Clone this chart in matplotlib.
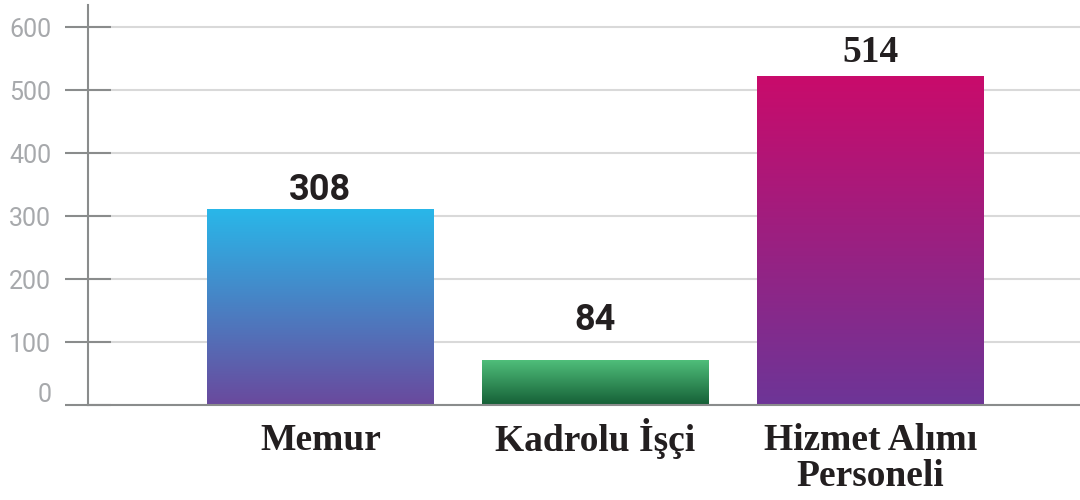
import numpy as np
import matplotlib
matplotlib.use("Agg")
import matplotlib.pyplot as plt
from matplotlib.colors import LinearSegmentedColormap
from matplotlib.transforms import ScaledTranslation

# data
categories = ["Memur", "Kadrolu İşçi", "Hizmet Alımı\nPersoneli"]
bar_heights = [311, 71, 522]  # heights of the bars as drawn
value_labels = ["308", "84", "514"]  # numbers printed above the bars
y_ticks = [0, 100, 200, 300, 400, 500, 600]

# styles
top_colors = ["#29b7e9", "#4fbe7a", "#c90b6b"]
bottom_colors = ["#6a499d", "#155f36", "#6d3597"]
label_fonts = ["Roboto", "Roboto", "Liberation Serif"]
label_offsets = [6.5, 21.5, 10]  # points above bar top
axis_grey = "#8a8c8c"
grid_grey = "#d9d9d9"

fig = plt.figure(figsize=(10.8, 5), dpi=100)
ax = fig.add_axes([88 / 1080, 95 / 500, 1 - 88 / 1080, 400 / 500])

x = np.arange(len(categories))
width = 0.825
bars = ax.bar(x, bar_heights, width=width, color="none", zorder=2)

grad = np.linspace(0, 1, 256).reshape(-1, 1)
for i, b in enumerate(bars):
    cmap = LinearSegmentedColormap.from_list(f"g{i}", [bottom_colors[i], top_colors[i]])
    im = ax.imshow(
        grad,
        extent=(x[i] - width / 2, x[i] + width / 2, 0, bar_heights[i]),
        origin="lower",
        cmap=cmap,
        aspect="auto",
        zorder=2,
    )
    im.set_clip_path(b)
    ax.annotate(
        value_labels[i],
        xy=(x[i], bar_heights[i]),
        xytext=(0, label_offsets[i]),
        textcoords="offset points",
        ha="center",
        va="baseline",
        fontsize=27 if label_fonts[i] != "Roboto" else 26,
        fontweight="bold",
        family=label_fonts[i],
        color="#231f20",
        zorder=3,
    )

ax.set_xlim(-0.845, 2.762)
ax.set_ylim(0, 635)

ax.set_yticks(y_ticks)
ax.set_yticklabels([str(v) for v in y_ticks], fontsize=18, color="#a7a9ac", family="Roboto")
ax.tick_params(axis="y", direction="inout", length=33, width=1.5, color=axis_grey, pad=10)
# the "0" label sits a little above its line
zero_lbl = ax.get_yticklabels()[0]
zero_lbl.set_transform(zero_lbl.get_transform() + ScaledTranslation(0, 12 / 100, fig.dpi_scale_trans))

ax.set_xticks(x)
ax.set_xticklabels(categories, fontsize=27, fontweight="bold", family="Liberation Serif",
                   color="#231f20", linespacing=1.05)
ax.tick_params(axis="x", length=0, pad=13)
# keep the dotted İ from pushing its label below the others' baseline
kad_lbl = ax.get_xticklabels()[1]
kad_lbl.set_transform(kad_lbl.get_transform() + ScaledTranslation(0, 5 / 100, fig.dpi_scale_trans))

ax.yaxis.grid(True, color=grid_grey, linewidth=1.5, zorder=0)
ax.set_axisbelow(True)

for s in ["top", "right"]:
    ax.spines[s].set_visible(False)
for s in ["left", "bottom"]:
    ax.spines[s].set_color(axis_grey)
    ax.spines[s].set_linewidth(1.5)
    ax.spines[s].set_zorder(4)

fig.savefig("out.png", dpi=100)
